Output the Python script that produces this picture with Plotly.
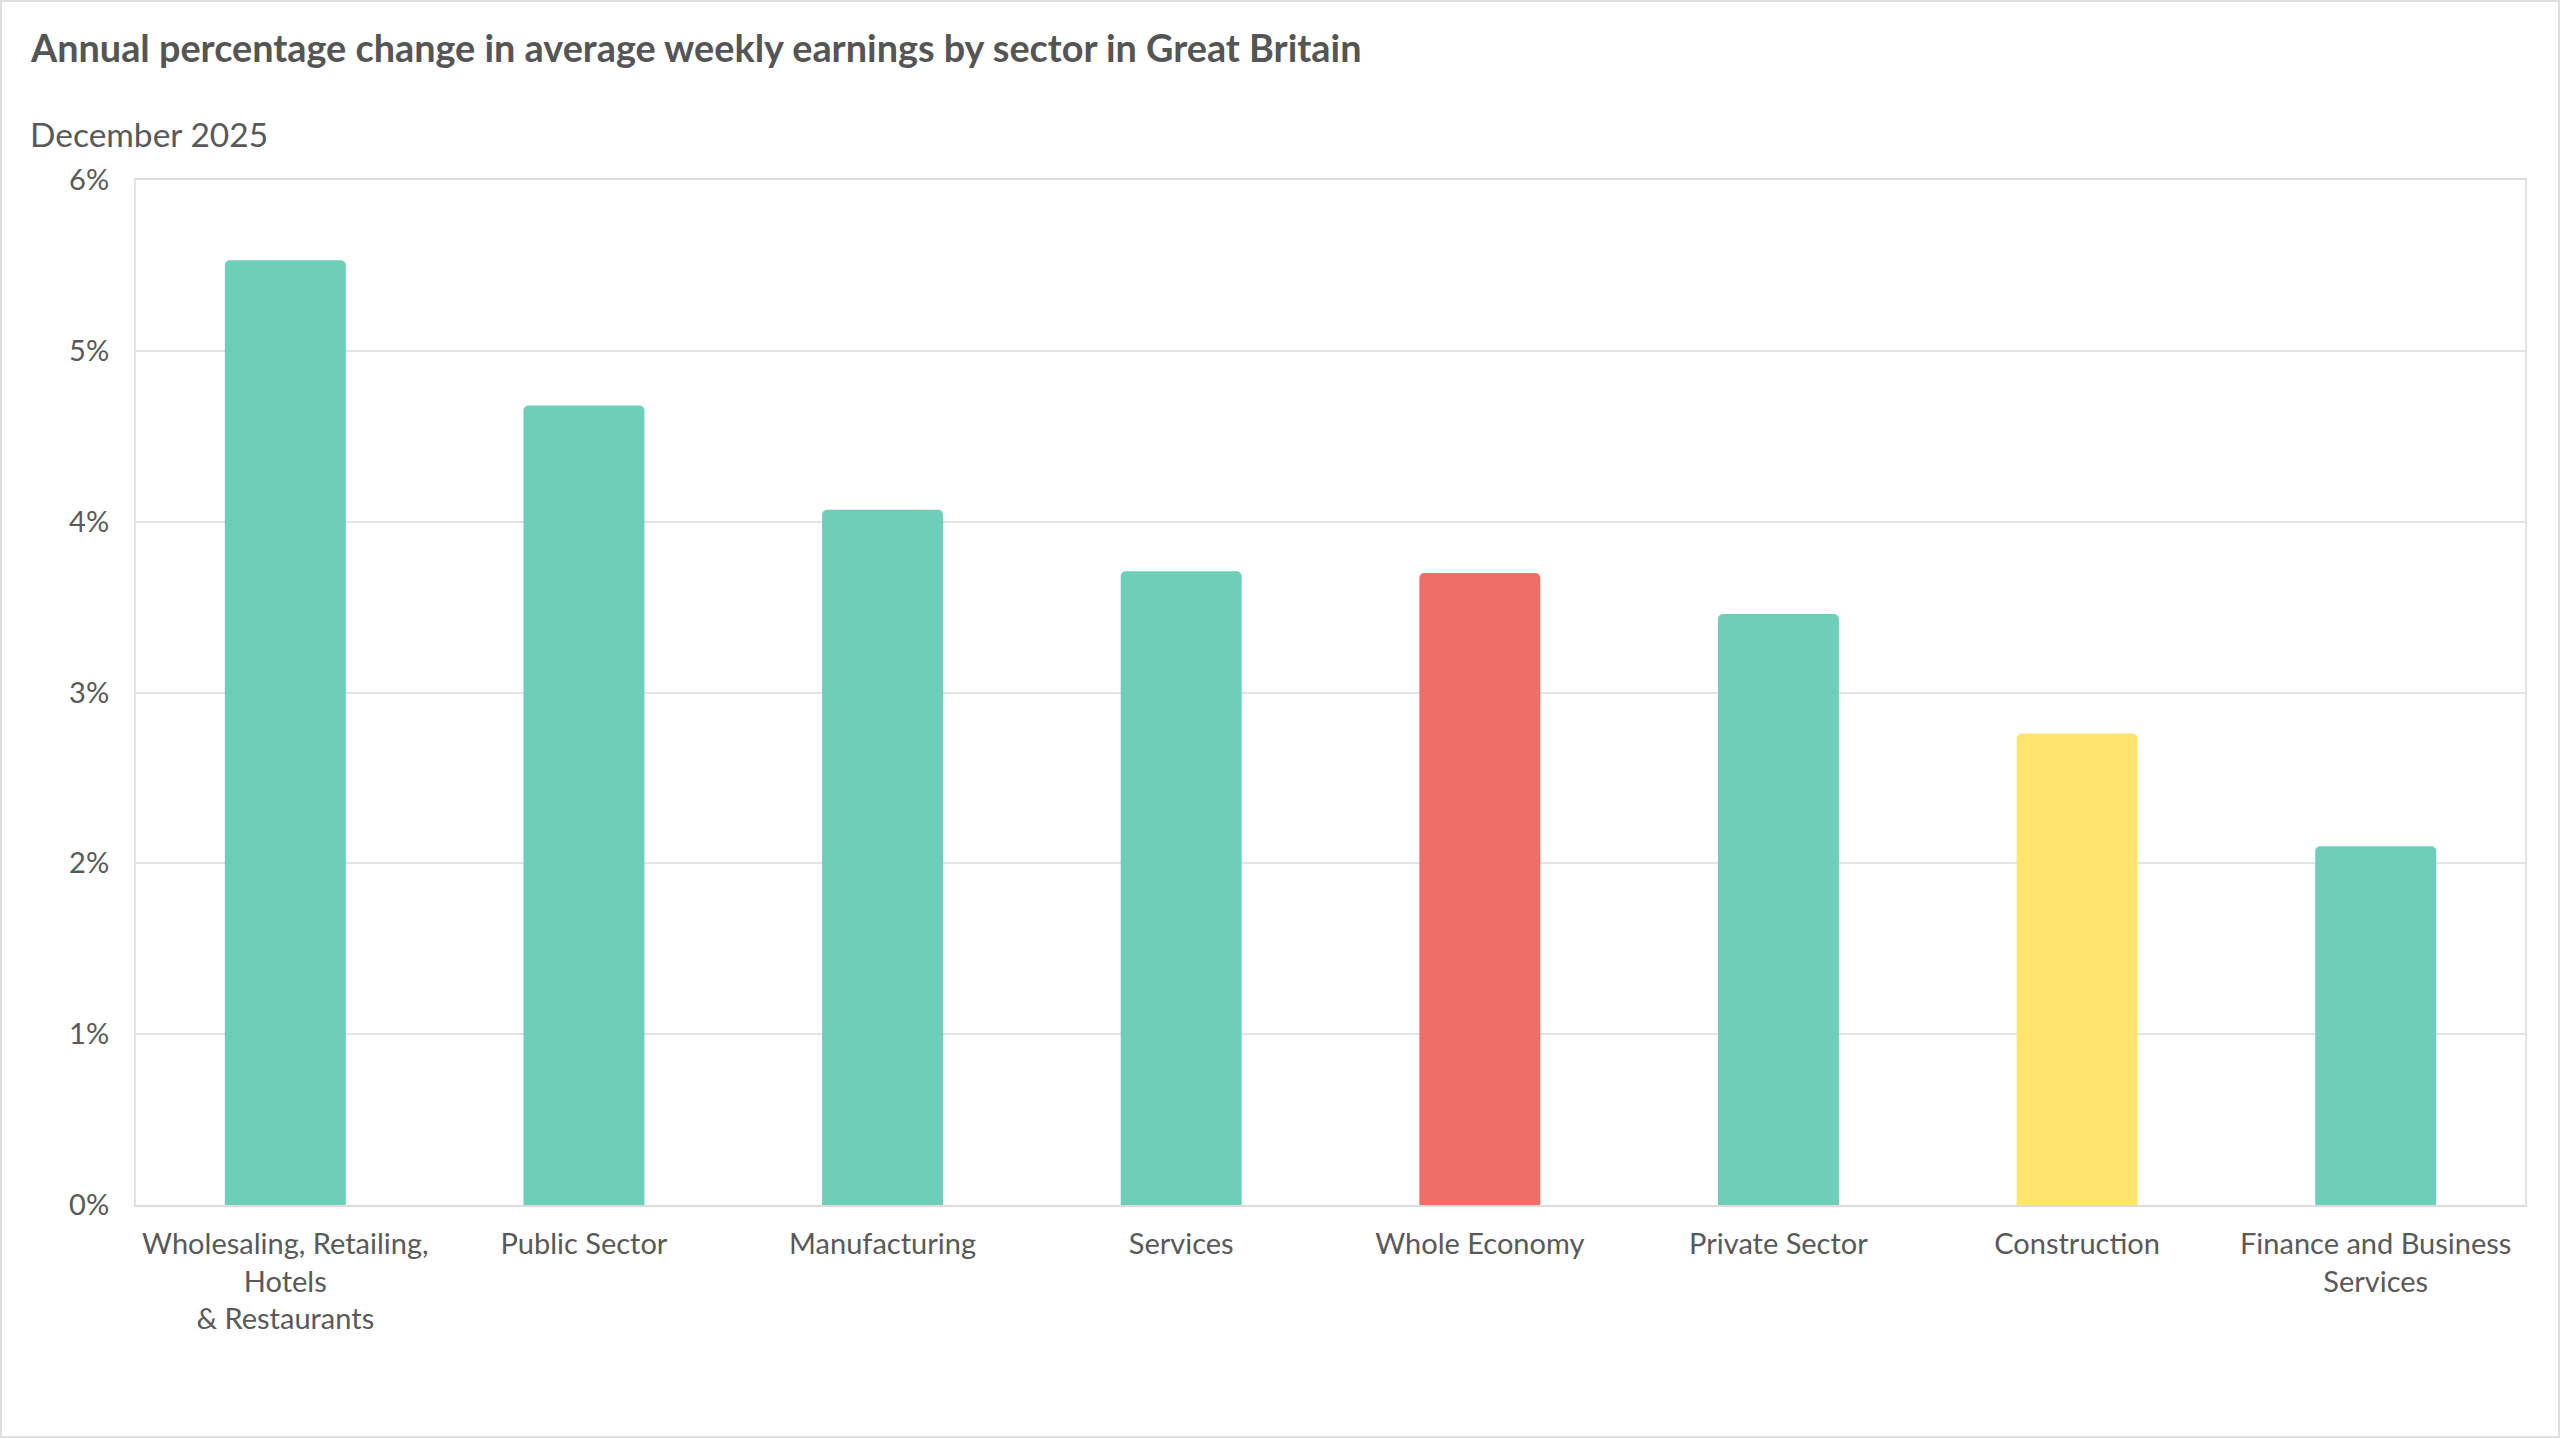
import plotly.graph_objects as go

categories = [
    "Wholesaling, Retailing,<br>Hotels<br>& Restaurants",
    "Public Sector",
    "Manufacturing",
    "Services",
    "Whole Economy",
    "Private Sector",
    "Construction",
    "Finance and Business<br>Services",
]
values = [5.53, 4.68, 4.07, 3.71, 3.70, 3.46, 2.76, 2.10]
bar_colors = ["#6dcfb8", "#6dcfb8", "#6dcfb8", "#6dcfb8", "#ee6f66", "#6dcfb8", "#ffe56f", "#6dcfb8"]
y_ticks = [0, 1, 2, 3, 4, 5, 6]
y_tick_labels = ["0%", "1%", "2%", "3%", "4%", "5%", "6%"]

title_text = "Annual percentage change in average weekly earnings by sector in Great Britain"
subtitle_text = "December 2025"

W, H = 2560, 1438
L, R, T, B = 136, 35, 180, 233
pw, ph = W - L - R, H - T - B

def px_x(x):
    return (x - L) / pw

def px_y(y):
    return (H - B - y) / ph

text_color = "#595959"
font_family = "Lato, 'Noto Sans', sans-serif"

fig = go.Figure()
fig.add_trace(go.Bar(
    x=categories,
    y=values,
    marker=dict(color=bar_colors, cornerradius=5, line=dict(width=0)),
    width=0.405,
    hoverinfo="x+y",
))

fig.update_layout(
    width=W, height=H,
    margin=dict(l=L, r=R, t=T, b=B),
    paper_bgcolor="white",
    plot_bgcolor="white",
    showlegend=False,
    font=dict(family=font_family, color=text_color, size=29),
    xaxis=dict(
        showgrid=False,
        showline=True, linecolor="#dcdcdc", linewidth=2, mirror=True,
        ticks="", tickfont=dict(size=29, color=text_color, family=font_family),
        ticklabelstandoff=12,
        fixedrange=True,
    ),
    yaxis=dict(
        range=[0, 6],
        tickvals=y_ticks, ticktext=y_tick_labels,
        showgrid=True, gridcolor="#e4e4e4", gridwidth=2,
        showline=True, linecolor="#e4e4e4", linewidth=2, mirror=True,
        zeroline=False,
        ticks="", tickfont=dict(size=29, color=text_color, family=font_family),
        ticklabelstandoff=19,
        fixedrange=True,
    ),
    annotations=[
        dict(text="<b>" + title_text + "</b>", xref="paper", yref="paper",
             x=px_x(28), y=px_y(47), xanchor="left", yanchor="middle",
             showarrow=False, font=dict(size=37.8, color="#555555", family=font_family)),
        dict(text=subtitle_text, xref="paper", yref="paper",
             x=px_x(28), y=px_y(134), xanchor="left", yanchor="middle",
             showarrow=False, font=dict(size=33.5, color=text_color, family=font_family)),
    ],
    shapes=[
        dict(type="rect", xref="paper", yref="paper",
             x0=px_x(1), x1=px_x(W - 1), y0=px_y(H - 1), y1=px_y(1),
             line=dict(color="#dedede", width=2), fillcolor="rgba(0,0,0,0)", layer="below"),
    ],
)

fig.write_html(
    "out.html",
    config={"displayModeBar": False},
    post_script="document.body.style.margin='0';document.body.style.padding='0';",
)
